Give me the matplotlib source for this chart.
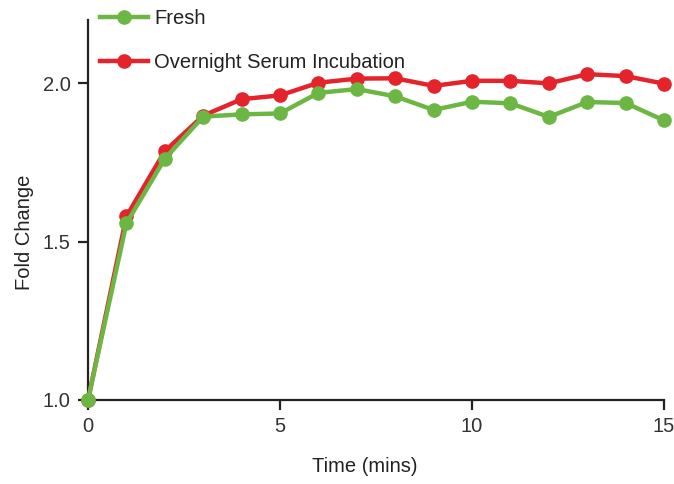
import matplotlib
matplotlib.use("Agg")
import matplotlib.pyplot as plt

time = list(range(16))
fresh = [1.0, 1.558, 1.762, 1.895, 1.902, 1.905, 1.970, 1.982, 1.959, 1.916, 1.942, 1.937, 1.894, 1.941, 1.938, 1.883]
overnight = [1.0, 1.580, 1.786, 1.898, 1.950, 1.962, 2.002, 2.015, 2.016, 1.992, 2.008, 2.008, 2.000, 2.029, 2.023, 1.999]

xticks = [0, 5, 10, 15]
yticks = [1.0, 1.5, 2.0]
ytick_labels = ["1.0", "1.5", "2.0"]

plt.rcParams['font.family'] = ['Liberation Sans', 'DejaVu Sans']

fig = plt.figure(figsize=(6.74, 4.84), dpi=100)
ax = fig.add_axes([0.1306, 0.1736, 0.8546, 0.785])

red = '#e4232b'
green = '#6cb744'
ax.plot(time, overnight, color=red, lw=3.2, marker='o', ms=9.5, clip_on=False, zorder=3, label='Overnight Serum Incubation')
ax.plot(time, fresh, color=green, lw=3.2, marker='o', ms=9.5, clip_on=False, zorder=4, label='Fresh')

ax.set_xlim(0, 15)
ax.set_ylim(1.0, 2.2)
ax.set_xticks(xticks)
ax.set_yticks(yticks)
ax.set_yticklabels(ytick_labels)
for s in ['top', 'right']:
    ax.spines[s].set_visible(False)
for s in ['left', 'bottom']:
    ax.spines[s].set_linewidth(1.6)
    ax.spines[s].set_color('#222222')
fs = 14.5
ax.tick_params(direction='out', length=7.5, width=1.6, labelsize=fs, colors='#222222',
               labelcolor='#333333')
ax.tick_params(axis='x', pad=5)
ax.tick_params(axis='y', pad=5)
ax.set_xlabel('Time (mins)', fontsize=fs, color='#222222', va='center')
ax.set_ylabel('Fold Change', fontsize=fs, color='#222222', va='center')
ax.xaxis.set_label_coords(0.481, -0.176)
ax.yaxis.set_label_coords(-0.11, 0.442)

handles, labels = ax.get_legend_handles_labels()
leg = fig.legend(handles[::-1], labels[::-1], loc='upper left', bbox_to_anchor=(100 / 674, 1 - 9 / 484),
                 frameon=False, fontsize=fs, labelspacing=1.25, handlelength=2.4, handletextpad=0.3,
                 borderpad=0.0, borderaxespad=0.0)
for t in leg.get_texts():
    t.set_color('#222222')

fig.savefig('out.png', dpi=100)
